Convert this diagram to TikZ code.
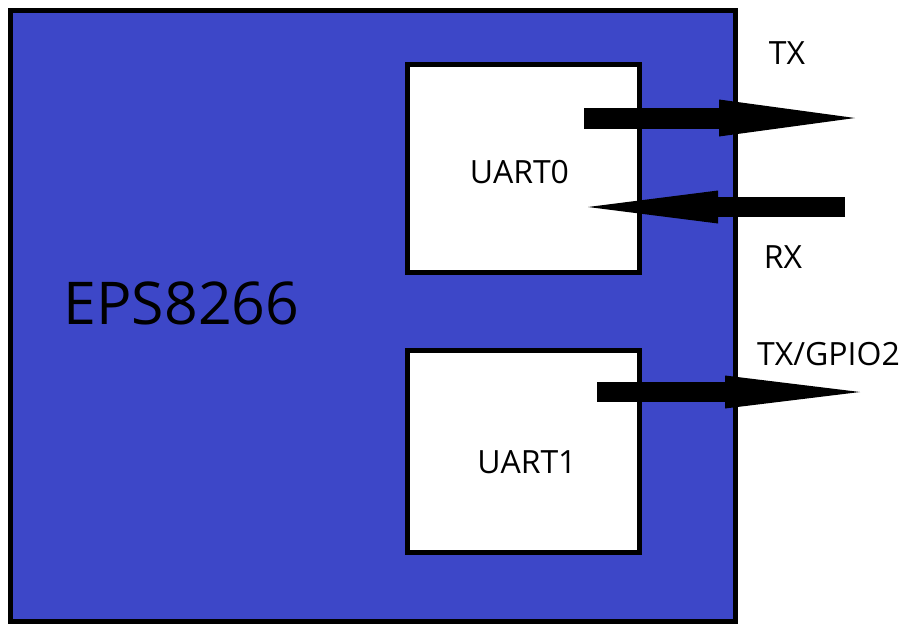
\documentclass[tikz,border=0pt]{standalone}
\usepackage{fontspec}
\setmainfont{Open Sans}
\usepackage{tikz}
\usetikzlibrary{arrows.meta, positioning}
\definecolor{chipblue}{HTML}{3D47C8}

\tikzset{
    chipbox/.style={draw=black, line width=5pt, fill=chipblue, inner sep=0pt},
    uartbox/.style={draw=black, line width=4.5pt, fill=white, inner sep=0pt},
    pinlabel/.style={anchor=base, font=\fontsize{32}{38}\selectfont},
    blockarrow/.style={line width=21pt, line cap=butt, -{Triangle[length=136pt, width=37pt, line width=0pt]}},
}

\begin{document}
\begin{tikzpicture}[x=1pt, y=-1pt]
    \useasboundingbox (0,0) rectangle (910,624);

    % ── CHIP ──────────────────────────────────────────────────────────
    \node[chipbox, minimum width=725pt, minimum height=611pt] (chip) at (373,316) {};
    \node[anchor=base, font=\fontsize{59}{70}\selectfont] (chipname) at (181.5,324) {EPS8266};

    % ── UART blocks ───────────────────────────────────────────────────
    \node[uartbox, minimum width=232pt, minimum height=208pt] (uart0) at (523.5,168.5) {};
    \node[uartbox, minimum width=232pt, minimum height=202pt] (uart1) at (523.5,451.5) {};
    \node[pinlabel] (uart0name) at (519.5,183) {UART0};
    \node[pinlabel] (uart1name) at (527,473) {UART1};

    % Arrow end points
    \coordinate (txstart) at (584,118);
    \coordinate (txend) at (855,118);
    \coordinate (rxstart) at (845,207);
    \coordinate (rxend) at (588,207);
    \coordinate (gpiostart) at (597,392);
    \coordinate (gpioend) at (860,392);

    % Signals
    \draw[blockarrow] (txstart) -- (txend);
    \draw[blockarrow, line width=20pt, -{Triangle[length=130pt, width=33pt, line width=0pt]}] (rxstart) -- (rxend);
    \draw[blockarrow, line width=20pt, -{Triangle[length=135pt, width=33pt, line width=0pt]}] (gpiostart) -- (gpioend);

    % Pin names
    \node[pinlabel] (txname) at (787,64) {TX};
    \node[pinlabel] (rxname) at (783,268) {RX};
    \node[pinlabel] (gpioname) at (828.5,365) {TX/GPIO2};
\end{tikzpicture}
\end{document}
